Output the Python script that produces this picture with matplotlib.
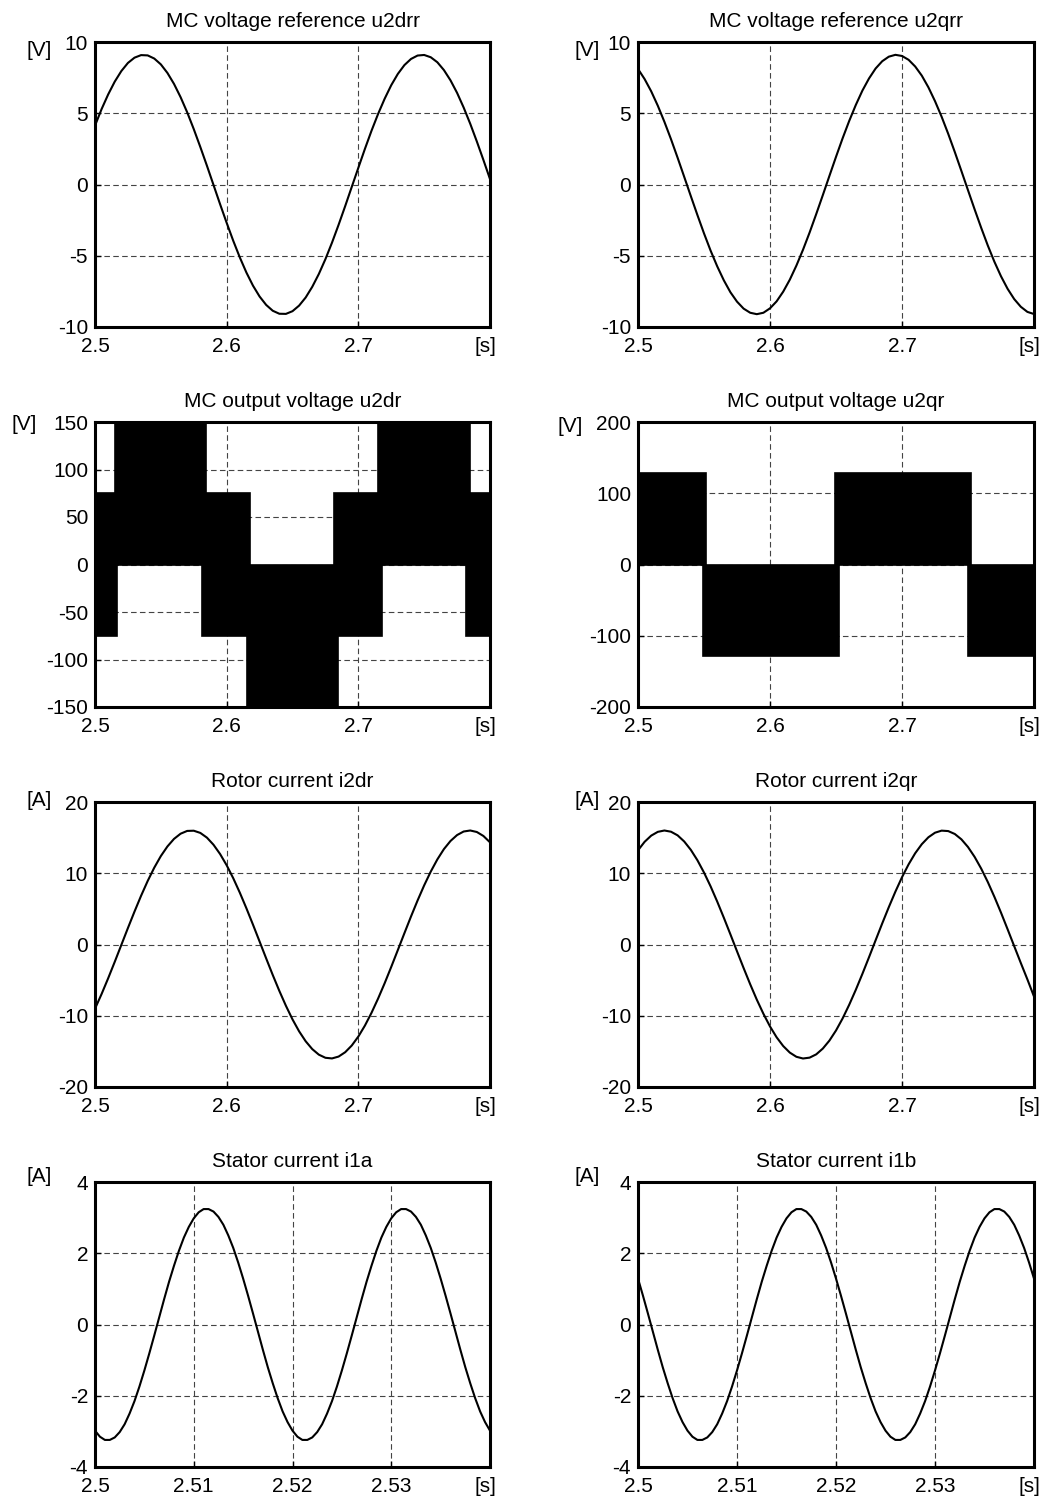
import numpy as np
import matplotlib
matplotlib.use("Agg")
import matplotlib.pyplot as plt

plt.rcParams['font.family'] = ['Liberation Sans', 'DejaVu Sans']

# ---------------- data ----------------
t_slow = np.linspace(2.5, 2.8, 61)   # 5 ms sampling
u2drr = [4.13, 5.29, 6.32, 7.22, 7.96, 8.53, 8.90, 9.08, 9.06, 8.84,
         8.43, 7.83, 7.06, 6.13, 5.07, 3.89, 2.63, 1.32, -0.03, -1.38,
         -2.69, -3.95, -5.12, -6.18, -7.10, -7.86, -8.45, -8.86, -9.07, -9.08,
         -8.89, -8.50, -7.93, -7.18, -6.28, -5.24, -4.08, -2.83, -1.52, -0.17,
         1.17, 2.50, 3.77, 4.95, 6.02, 6.97, 7.76, 8.38, 8.81, 9.05,
         9.09, 8.93, 8.58, 8.03, 7.31, 6.43, 5.40, 4.26, 3.02, 1.72, 0.38]
u2qrr = [8.11, 7.40, 6.54, 5.53, 4.40, 3.18, 1.88, 0.54, -0.81, -2.14,
         -3.43, -4.64, -5.74, -6.72, -7.56, -8.22, -8.71, -9.00, -9.10, -9.00,
         -8.69, -8.20, -7.52, -6.68, -5.69, -4.58, -3.37, -2.08, -0.75, 0.60,
         1.94, 3.24, 4.46, 5.58, 6.59, 7.44, 8.14, 8.65, 8.97, 9.10,
         9.02, 8.75, 8.28, 7.64, 6.82, 5.85, 4.76, 3.56, 2.28, 0.95,
         -0.40, -1.74, -3.04, -4.28, -5.42, -6.44, -7.32, -8.04, -8.58, -8.94, -9.09]
i2dr = [-9.01, -6.95, -4.74, -2.43, -0.06, 2.31, 4.62, 6.84, 8.91, 10.78,
        12.41, 13.76, 14.82, 15.55, 15.94, 15.97, 15.66, 15.00, 14.00, 12.70,
        11.12, 9.30, 7.27, 5.08, 2.78, 0.42, -1.95, -4.28, -6.51, -8.60,
        -10.51, -12.18, -13.58, -14.68, -15.46, -15.90, -15.99, -15.73, -15.12, -14.18,
        -12.92, -11.38, -9.59, -7.59, -5.43, -3.14, -0.78, 1.59, 3.93, 6.18,
        8.30, 10.23, 11.94, 13.39, 14.53, 15.36, 15.86, 16.00, 15.79, 15.23, 14.34]
i2qr = [13.22, 14.41, 15.28, 15.81, 16.00, 15.83, 15.32, 14.46, 13.29, 11.83,
        10.10, 8.16, 6.03, 3.77, 1.43, -0.95, -3.30, -5.58, -7.74, -9.72,
        -11.50, -13.02, -14.25, -15.17, -15.76, -16.00, -15.88, -15.42, -14.61, -13.49,
        -12.07, -10.38, -8.46, -6.36, -4.12, -1.79, 0.59, 2.95, 5.24, 7.42,
        9.44, 11.25, 12.81, 14.08, 15.05, 15.69, 15.98, 15.92, 15.51, 14.76,
        13.68, 12.30, 10.65, 8.77, 6.69, 4.47, 2.14, -0.23, -2.59, -4.90, -7.30]

t_fast = np.linspace(2.5, 2.54, 81)  # 0.5 ms sampling
i1a = [-2.98, -3.15, -3.24, -3.24, -3.17, -3.02, -2.80, -2.50, -2.15, -1.74,
       -1.29, -0.81, -0.31, 0.20, 0.71, 1.20, 1.65, 2.07, 2.44, 2.74,
       2.98, 3.15, 3.24, 3.24, 3.17, 3.02, 2.80, 2.50, 2.15, 1.74,
       1.29, 0.81, 0.31, -0.20, -0.71, -1.20, -1.65, -2.07, -2.44, -2.74,
       -2.98, -3.15, -3.24, -3.24, -3.17, -3.02, -2.80, -2.50, -2.15, -1.74,
       -1.29, -0.81, -0.31, 0.20, 0.71, 1.20, 1.65, 2.07, 2.44, 2.74,
       2.98, 3.15, 3.24, 3.24, 3.17, 3.02, 2.80, 2.50, 2.15, 1.74,
       1.29, 0.81, 0.31, -0.20, -0.71, -1.20, -1.65, -2.07, -2.44, -2.74, -2.98]
i1b = [1.29, 0.81, 0.31, -0.20, -0.71, -1.20, -1.65, -2.07, -2.44, -2.74,
       -2.98, -3.15, -3.24, -3.24, -3.17, -3.02, -2.80, -2.50, -2.15, -1.74,
       -1.29, -0.81, -0.31, 0.20, 0.71, 1.20, 1.65, 2.07, 2.44, 2.74,
       2.98, 3.15, 3.24, 3.24, 3.17, 3.02, 2.80, 2.50, 2.15, 1.74,
       1.29, 0.81, 0.31, -0.20, -0.71, -1.20, -1.65, -2.07, -2.44, -2.74,
       -2.98, -3.15, -3.24, -3.24, -3.17, -3.02, -2.80, -2.50, -2.15, -1.74,
       -1.29, -0.81, -0.31, 0.20, 0.71, 1.20, 1.65, 2.07, 2.44, 2.74,
       2.98, 3.15, 3.24, 3.24, 3.17, 3.02, 2.80, 2.50, 2.15, 1.74, 1.29]

# PWM output voltage envelopes (switching edges and levels)
u2dr_up_t = [2.5, 2.5152, 2.5843, 2.6177, 2.6818, 2.7152, 2.7848, 2.8]
u2dr_up_v = [75, 150, 75, 0, 75, 150, 75]
u2dr_lo_t = [2.5, 2.5170, 2.5810, 2.6152, 2.6848, 2.7182, 2.7818, 2.8]
u2dr_lo_v = [-75, 0, -75, -150, -75, 0, -75]

u2qr_up_t = [2.5, 2.5514, 2.6494, 2.7524, 2.8]
u2qr_up_v = [129, 0, 129, 0]
u2qr_lo_t = [2.5, 2.5489, 2.6519, 2.7499, 2.8]
u2qr_lo_v = [0, -129, 0, -129]

titles = ["MC voltage reference u2drr", "MC voltage reference u2qrr",
          "MC output voltage u2dr", "MC output voltage u2qr",
          "Rotor current i2dr", "Rotor current i2qr",
          "Stator current i1a", "Stator current i1b"]
units = ["[V]", "[V]", "[V]", "[V]", "[A]", "[A]", "[A]", "[A]"]
yticks_ref = [-10, -5, 0, 5, 10]
yticks_u2dr = [-150, -100, -50, 0, 50, 100, 150]
yticks_u2qr = [-200, -100, 0, 100, 200]
yticks_cur = [-20, -10, 0, 10, 20]
yticks_stat = [-4, -2, 0, 2, 4]
xticks_slow = [2.5, 2.6, 2.7]
xticks_fast = [2.5, 2.51, 2.52, 2.53]

# ---------------- layout ----------------
W, H = 1049, 1501
fig = plt.figure(figsize=(W / 100, H / 100), dpi=100)
cols = [(95, 490), (638, 1034)]
rows = [42, 422, 802, 1182]
ah = 285
unit_pos = [(39, 50), (587, 50), (24, 424), (570, 426),
            (39, 801), (587, 801), (39, 1177), (587, 1177)]


def make_ax(r, c):
    x0, x1 = cols[c]
    y0 = rows[r]
    return fig.add_axes([x0 / W, 1 - (y0 + ah) / H, (x1 - x0) / W, ah / H])


def step_poly(up_t, up_v, lo_t, lo_v):
    xs, ys = [], []
    for i, v in enumerate(up_v):
        xs += [up_t[i], up_t[i + 1]]
        ys += [v, v]
    for i in range(len(lo_v) - 1, -1, -1):
        xs += [lo_t[i + 1], lo_t[i]]
        ys += [lo_v[i], lo_v[i]]
    return xs, ys


for idx in range(8):
    r, c = divmod(idx, 2)
    ax = make_ax(r, c)
    if idx == 0:
        ax.plot(t_slow, u2drr, color='black', lw=1.5)
        yt = yticks_ref
    elif idx == 1:
        ax.plot(t_slow, u2qrr, color='black', lw=1.5)
        yt = yticks_ref
    elif idx == 2:
        xs, ys = step_poly(u2dr_up_t, u2dr_up_v, u2dr_lo_t, u2dr_lo_v)
        ax.fill(xs, ys, facecolor='black', edgecolor='black', lw=1.2, zorder=3)
        yt = yticks_u2dr
    elif idx == 3:
        xs, ys = step_poly(u2qr_up_t, u2qr_up_v, u2qr_lo_t, u2qr_lo_v)
        ax.fill(xs, ys, facecolor='black', edgecolor='black', lw=1.2, zorder=3)
        yt = yticks_u2qr
    elif idx == 4:
        ax.plot(t_slow, i2dr, color='black', lw=1.5)
        yt = yticks_cur
    elif idx == 5:
        ax.plot(t_slow, i2qr, color='black', lw=1.5)
        yt = yticks_cur
    elif idx == 6:
        ax.plot(t_fast, i1a, color='black', lw=1.5)
        yt = yticks_stat
    else:
        ax.plot(t_fast, i1b, color='black', lw=1.5)
        yt = yticks_stat

    if r < 3:
        ax.set_xlim(2.5, 2.8)
        xt = xticks_slow
    else:
        ax.set_xlim(2.5, 2.54)
        xt = xticks_fast
    ax.set_ylim(yt[0], yt[-1])
    ax.set_xticks(xt)
    ax.set_xticklabels([("%g" % v) for v in xt])
    ax.set_yticks(yt)
    ax.set_yticklabels([("%g" % v) for v in yt])
    ax.set_axisbelow(True)
    ax.grid(True, color='#444444', lw=0.8, ls=(0, (5, 3)))
    for s in ax.spines.values():
        s.set_linewidth(2.2)
        s.set_zorder(5)
    ax.tick_params(direction='in', length=4, width=1, labelsize=15, pad=5)
    ax.tick_params(axis='x', pad=7)
    ax.set_title(titles[idx], fontsize=15, pad=11)

    x0, x1 = cols[c]
    y0 = rows[r]
    ux, uy = unit_pos[idx]
    fig.text(ux / W, 1 - uy / H, units[idx], fontsize=15, ha='center', va='center')
    fig.text((x1 - 5) / W, 1 - (y0 + ah + 20) / H, "[s]", fontsize=15,
             ha='center', va='center')

fig.savefig("out.png", dpi=100)
